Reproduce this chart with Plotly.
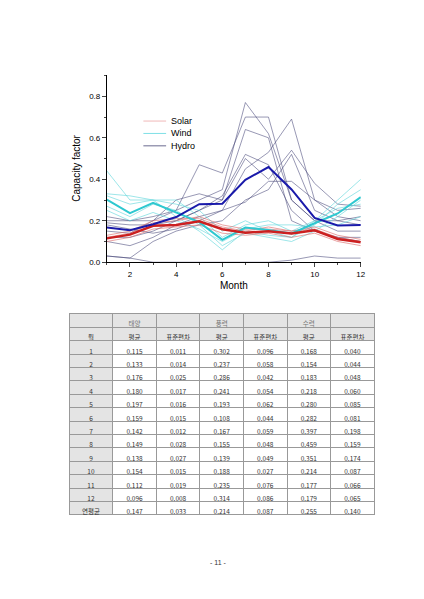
import plotly.graph_objects as go

months = list(range(1, 13))
solar_mean = [0.115,0.133,0.176,0.180,0.197,0.159,0.142,0.149,0.138,0.154,0.112,0.096]
solar_sd   = [0.011,0.014,0.025,0.017,0.016,0.015,0.012,0.028,0.027,0.015,0.019,0.008]
wind_mean  = [0.302,0.237,0.286,0.241,0.193,0.108,0.167,0.155,0.139,0.188,0.235,0.314]
wind_sd    = [0.096,0.058,0.042,0.054,0.062,0.044,0.059,0.048,0.049,0.027,0.076,0.086]
hydro_mean = [0.168,0.154,0.183,0.218,0.280,0.282,0.397,0.459,0.351,0.214,0.177,0.179]
hydro_sd   = [0.040,0.044,0.048,0.060,0.085,0.081,0.198,0.159,0.174,0.087,0.066,0.065]
annual = ["0.147","0.033","0.214","0.087","0.255","0.140"]

hydro_sites = [
 [0.2,0.2,0.22,0.25,0.3,0.35,0.77,0.62,0.3,0.2,0.15,0.15],
 [0.22,0.2,0.2,0.25,0.47,0.43,0.7,0.7,0.3,0.2,0.2,0.18],
 [0.12,0.12,0.15,0.2,0.25,0.3,0.64,0.6,0.2,0.15,0.12,0.12],
 [0.1,0.08,0.12,0.18,0.22,0.25,0.45,0.53,0.69,0.3,0.22,0.2],
 [0.15,0.14,0.2,0.3,0.33,0.3,0.5,0.4,0.54,0.38,0.28,0.27],
 [0.03,0.02,0.1,0.15,0.18,0.2,0.3,0.35,0.52,0.25,0.2,0.22],
 [0.19,0.18,0.18,0.2,0.25,0.32,0.52,0.47,0.25,0.15,0.12,0.1],
 [0.18,0.16,0.14,0.16,0.2,0.25,0.29,0.39,0.39,0.3,0.25,0.26],
 [0.03,0.02,0,0,0,0,0,0,0.01,0.03,0.02,0.02],
]
wind_sites = [
 [0.44,0.3,0.3,0.3,0.22,0.12,0.18,0.2,0.15,0.2,0.3,0.4],
 [0.33,0.32,0.3,0.28,0.25,0.15,0.2,0.15,0.12,0.18,0.28,0.35],
 [0.27,0.22,0.28,0.25,0.18,0.08,0.14,0.12,0.1,0.15,0.22,0.3],
 [0.32,0.28,0.3,0.22,0.15,0.06,0.15,0.13,0.12,0.2,0.26,0.28],
 [0.25,0.2,0.24,0.2,0.16,0.1,0.16,0.18,0.18,0.17,0.18,0.22],
]
solar_sites = [
 [0.12,0.14,0.19,0.2,0.22,0.18,0.16,0.16,0.15,0.17,0.13,0.11],
 [0.1,0.12,0.16,0.17,0.18,0.14,0.13,0.14,0.12,0.14,0.1,0.08],
 [0.13,0.15,0.2,0.21,0.21,0.17,0.15,0.17,0.15,0.16,0.12,0.1],
]
legend_names = ["Solar", "Wind", "Hydro"]
legend_colors = ["#f0b8b8", "#7fe0e6", "#6a6a90"]

fig = go.Figure()
def thin(ys, color):
    fig.add_trace(go.Scatter(x=months, y=ys, mode="lines", line=dict(color=color, width=0.8),
                             showlegend=False, hoverinfo="skip"))
for s in hydro_sites:
    thin(s, "rgba(70,70,120,0.7)")
for s in wind_sites:
    thin(s, "rgba(100,215,220,0.8)")
for s in solar_sites:
    thin(s, "rgba(220,110,110,0.8)")
fig.add_trace(go.Scatter(x=months, y=wind_mean, mode="lines", line=dict(color="#2ec8d0", width=2), showlegend=False))
fig.add_trace(go.Scatter(x=months, y=solar_mean, mode="lines", line=dict(color="#cc2020", width=2.5), showlegend=False))
fig.add_trace(go.Scatter(x=months, y=hydro_mean, mode="lines", line=dict(color="#1a1aaa", width=2), showlegend=False))

def f(v): return f"{v:.3f}"
rowlab = ["월"] + [str(m) for m in months] + ["연평균"]
hdr1 = ["", "태양", "", "풍력", "", "수력", ""]
hdr2 = ["평균", "표준편차"] * 3
data = [solar_mean, solar_sd, wind_mean, wind_sd, hydro_mean, hydro_sd]
cols = [rowlab] + [[hdr2[j]] + [f(v) for v in data[j]] + [annual[j]] for j in range(6)]
g, w = "#e4e4e4", "white"
fills = [[g]*14] + [[g] + [w]*13 for _ in range(6)]
fig.add_trace(go.Table(
    domain=dict(x=[0.146, 0.875], y=[0.130, 0.486]),
    header=dict(values=hdr1, height=14, fill_color=g, line=dict(color="#999", width=1),
                font=dict(size=6.5, color="#777", family="Noto Sans CJK KR")),
    cells=dict(values=cols, fill_color=fills, line=dict(color="#999", width=1), height=13.4,
               align="center", font=dict(size=6.5, color="#333", family="Noto Sans CJK KR"))))

shapes, annos = [], []
for i, (n, c) in enumerate(zip(legend_names, legend_colors)):
    yp = 1 - (114 + 12.5 * i) / 599
    shapes.append(dict(type="line", xref="paper", yref="paper", x0=137/424, x1=160/424, y0=yp, y1=yp,
                       line=dict(color=c, width=1)))
    annos.append(dict(text=n, x=163/424, y=yp, xref="paper", yref="paper", xanchor="left", yanchor="middle",
                      showarrow=False, font=dict(size=9)))
annos.append(dict(text="- 11 -", x=0.5, y=1-565/599, xref="paper", yref="paper", showarrow=False,
                  font=dict(size=7, color="#333")))

fig.update_layout(
    width=424, height=599, margin=dict(l=0, r=0, t=0, b=0), paper_bgcolor="white", plot_bgcolor="white",
    font=dict(family="Arial, Liberation Sans", size=8, color="black"),
    xaxis=dict(domain=[0.236, 0.842], range=[1, 12], tickvals=[2,4,6,8,10,12], ticks="outside", ticklen=4,
               showline=True, linecolor="black", showgrid=False, zeroline=False,
               minor=dict(tickvals=[1,3,5,7,9,11], ticks="outside", ticklen=2),
               title=dict(text="Month", font=dict(size=10), standoff=4)),
    yaxis=dict(domain=[0.572, 0.888], range=[0, 0.905], tickvals=[0,0.2,0.4,0.6,0.8], tickformat=".1f",
               ticks="outside", ticklen=4, showline=True, linecolor="black", showgrid=False, zeroline=False,
               minor=dict(dtick=0.1, ticks="outside", ticklen=2),
               title=dict(text="Capacity factor", font=dict(size=10), standoff=6)),
    shapes=shapes, annotations=annos,
)
fig.write_html("out.html")
